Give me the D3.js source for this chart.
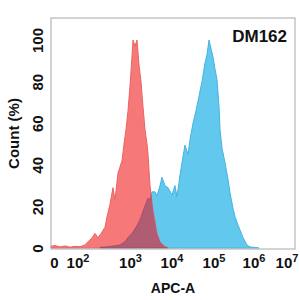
<!DOCTYPE html>
<html>
<head>
<meta charset="utf-8">
<script src="https://cdn.jsdelivr.net/npm/d3@7"></script>
<style>
  body { margin: 0; background: #fff; }
  text { font-family: "Liberation Sans", Arial, sans-serif; font-weight: bold; fill: #111; }
</style>
</head>
<body>
<div id="plot"></div>
<script>
// x in decades (log10), "0" label sits at 0 on the compressed linear part
const redX = [-0.26, 0.09, 0.51, 0.94, 1.36, 1.79, 2.05, 2.14, 2.2, 2.28, 2.333, 2.39, 2.45, 2.486, 2.524, 2.562,
  2.619, 2.676, 2.714, 2.771, 2.848, 2.886, 2.924, 2.962, 3.0, 3.048, 3.072, 3.12, 3.169, 3.217, 3.265,
  3.313, 3.361, 3.41, 3.434, 3.482, 3.554, 3.651, 3.723, 3.819, 3.916];
const redY = [0.8, 1.2, 0.5, 1.0, 0.4, 0.8, 0.6, 1.5, 3, 5, 7, 5, 7, 8.5, 10, 15,
  21, 29, 23, 36, 42, 50, 57, 66, 78, 92, 100, 97, 100, 88, 80,
  68, 57, 50, 45, 30, 18, 7, 3, 1, 0];

const blueX = [2.429, 2.619, 2.81, 2.905, 2.962, 3.048, 3.145, 3.241, 3.337, 3.434, 3.482, 3.53, 3.602, 3.651,
  3.723, 3.771, 3.843, 3.916, 4.012, 4.083, 4.131, 4.202, 4.25, 4.321, 4.393, 4.44, 4.512, 4.583, 4.655,
  4.726, 4.798, 4.845, 4.893, 4.94, 4.988, 5.038, 5.088, 5.138, 5.163, 5.213, 5.288, 5.363, 5.413, 5.488,
  5.538, 5.613, 5.663, 5.738, 5.838, 5.913, 6.038, 6.163];
const blueY = [0.3, 0.7, 1.5, 3, 5, 7, 10, 13.5, 19, 24, 23, 27, 27, 25,
  30, 34, 30, 29, 25.5, 30, 24.5, 35, 41, 49.5, 45, 52, 60, 66, 73,
  80, 89, 93, 100, 96, 92, 86, 81, 68, 57, 48, 41, 33, 26.5, 19,
  15, 11, 8.7, 5, 1.4, 0.5, 0.3, 0];

const xTicks = [0, 2, 3, 4, 5, 6, 7];
const xTickLabels = ["0", "2", "3", "4", "5", "6", "7"]; // exponents of 10
const yTicks = [0, 20, 40, 60, 80, 100];
const sampleName = "DM162";
const xTitle = "APC-A";
const yTitle = "Count (%)";

const W = 300, H = 300;
const margin = { top: 18, right: 5, bottom: 51, left: 51 };
const width = W - margin.left - margin.right;
const height = H - margin.top - margin.bottom;

const svg = d3.select("#plot").append("svg").attr("width", W).attr("height", H);
const g = svg.append("g").attr("transform", "translate(" + margin.left + "," + margin.top + ")");

// biexponential-like display: decades are not evenly spaced
const x = d3.scaleLinear()
  .domain([-0.26, 0, 2, 3, 4, 5, 6, 7, 7.25])
  .range([0, 3, 26.5, 79, 120.5, 162.5, 202.5, 235.5, width]);
const y = d3.scaleLinear().domain([0, 110.6]).range([height - 1, 0]);

const area = d3.area()
  .x(d => x(d[0]))
  .y0(y(0))
  .y1(d => y(d[1]))
  .curve(d3.curveLinear);

const red = redX.map((v, i) => [v, redY[i]]);
const blue = blueX.map((v, i) => [v, blueY[i]]);

g.append("clipPath").attr("id", "redClip")
  .append("path").attr("d", area(red));

g.append("path").attr("d", area(blue))
  .attr("fill", "#63c8ee").attr("stroke", "#45b4e0").attr("stroke-width", 1);
g.append("path").attr("d", area(red))
  .attr("fill", "#f77878").attr("stroke", "#e86464").attr("stroke-width", 1);
g.append("path").attr("d", area(blue))
  .attr("clip-path", "url(#redClip)")
  .attr("fill", "#b05c72").attr("stroke", "#9a4a62").attr("stroke-width", 0.8);

// frame
g.append("rect").attr("x", 0).attr("y", 0).attr("width", width).attr("height", height)
  .attr("fill", "none").attr("stroke", "#a8a8a8").attr("stroke-width", 1);

// x axis labels
const xAxis = g.append("g")
  .attr("transform", "translate(0," + height + ")")
  .call(d3.axisBottom(x).tickValues(xTicks).tickSize(0).tickPadding(0).tickFormat(""));
xAxis.select(".domain").remove();
xAxis.selectAll(".tick").each(function(d, i) {
  const t = d3.select(this).select("text")
    .attr("y", 19).attr("dy", null)
    .style("font-size", "15px").attr("fill", "#111");
  if (d === 0) {
    t.text("0");
  } else {
    t.append("tspan").text("10");
    t.append("tspan").attr("dy", -6).style("font-size", "11px").text(xTickLabels[i]);
  }
});

// y axis labels, rotated
const yAxis = g.append("g")
  .call(d3.axisLeft(y).tickValues(yTicks).tickSize(0).tickFormat(""));
yAxis.select(".domain").remove();
yAxis.selectAll(".tick text").remove();
yAxis.selectAll(".tick").append("text")
  .attr("transform", "translate(-8,0) rotate(-90)")
  .attr("text-anchor", "middle")
  .attr("fill", "#111")
  .style("font-size", "15px")
  .text(d => d);

svg.append("text")
  .attr("x", 287).attr("y", 42)
  .attr("text-anchor", "end")
  .style("font-size", "17px")
  .text(sampleName);

svg.append("text")
  .attr("x", margin.left + width / 2).attr("y", 293)
  .attr("text-anchor", "middle")
  .style("font-size", "14px")
  .text(xTitle);

svg.append("text")
  .attr("transform", "translate(19," + (margin.top + height / 2) + ") rotate(-90)")
  .attr("text-anchor", "middle")
  .style("font-size", "15px")
  .text(yTitle);
</script>
</body>
</html>
